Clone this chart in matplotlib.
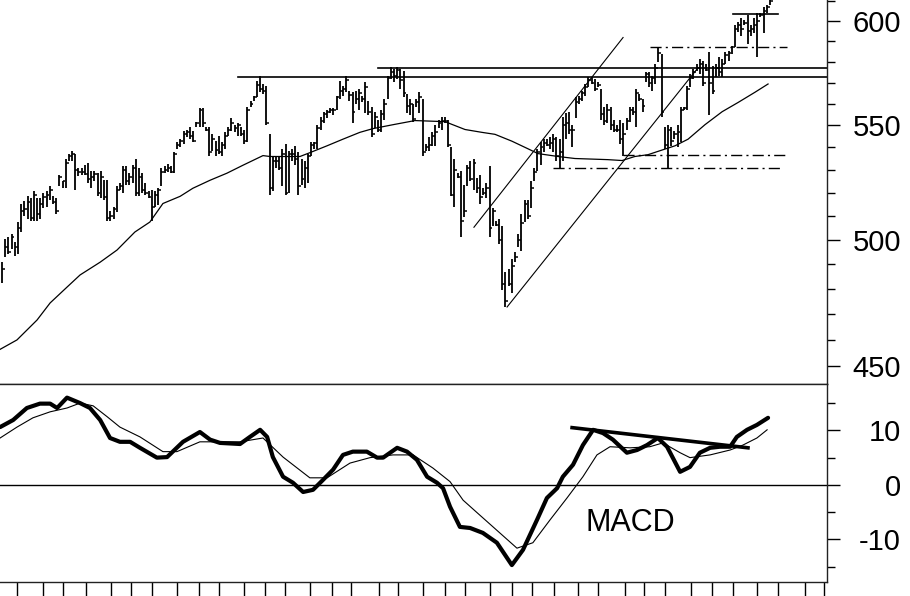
import matplotlib.pyplot as plt
import numpy as np

plt.rcParams['font.family'] = ['Liberation Sans', 'DejaVu Sans']

# daily bars (high / low / close)
highs = [
    490.7, 500.1, 500.9, 502.2, 498.9, 507.5, 515.3, 516.2, 518.4, 517.5,
    520.6, 517.5, 517.5, 519.7, 520.6, 522.8, 518.4, 517.5, 527.6, 525.0,
    535.0, 537.2, 538.5, 537.2, 530.6, 530.6, 532.0, 532.8, 529.3, 529.3,
    528.5, 529.3, 525.4, 525.4, 512.3, 514.0, 522.8, 524.1, 531.5, 531.5,
    528.5, 532.0, 535.0,
    530.6, 528.5, 524.1, 520.6, 521.0, 520.6, 521.9, 530.6, 531.5,
    532.4, 531.5, 538.1, 542.4, 543.7, 547.2, 548.1, 549.4, 547.2, 551.5,
    558.2, 558.2, 549.4, 549.4, 545.9, 542.8, 545.1, 542.4, 546.8,
    549.4, 553.4, 550.1, 551.0, 549.4, 548.1, 558.7, 561.1, 563.5, 570.7,
    573.1, 569.3, 568.3,
    545.9, 536.3, 535.9, 536.3, 539.4, 541.6, 538.5, 539.4, 540.7, 538.1,
    535.0, 533.7, 537.2, 542.4, 542.4, 550.3, 553.9, 556.3, 557.3, 558.2,
    558.2, 563.5, 570.7, 568.3, 573.1, 565.9, 565.4, 565.9, 566.9, 563.5,
    570.2, 561.1, 558.7, 556.3, 552.5, 557.3, 562.1, 573.1, 577.4, 576.5,
    577.4, 576.5,
    575.5, 564.5, 562.1, 559.7, 562.1, 565.4, 562.1, 541.6, 544.6, 546.8,
    550.3, 552.5, 553.9, 553.9, 552.5, 540.2, 535.0, 528.5, 529.3, 523.2,
    532.0, 533.7, 535.0, 526.3, 527.6, 521.9, 524.1, 531.5, 513.2, 507.9,
    508.8, 505.7, 486.6, 487.8, 491.9, 494.8, 502.2, 510.6, 516.7, 516.7,
    525.0, 530.6, 539.4, 542.4, 543.7, 543.7, 544.6, 545.9, 544.6, 543.7,
    553.9, 555.8, 556.3, 550.3, 563.0, 563.5, 565.9, 569.3, 572.6, 572.6,
    571.7, 570.2, 566.9, 558.7, 559.7, 558.7, 552.5, 550.1, 552.5, 551.0,
    553.4, 558.7, 558.7, 566.9, 564.5, 562.1, 575.0, 575.0, 573.1, 578.9,
    587.0, 583.7,
    549.4, 550.3, 549.4, 547.2, 550.3, 558.7, 558.7, 568.3, 574.1, 576.5,
    578.9, 581.3, 580.3, 578.9, 584.6, 577.9, 578.9, 582.2, 581.3, 584.6,
    585.1, 587.5, 598.1, 599.5, 601.5, 600.5, 603.0, 598.1, 601.5, 604.0,
    604.0, 607.0, 608.0, 611.5,
]
lows = [
    482.1, 492.7, 493.9, 496.0, 493.1, 493.9, 503.1, 510.1, 508.8, 507.9,
    507.9, 507.9, 508.8, 513.2, 514.0, 516.7, 515.3, 510.9, 522.8, 521.9,
    521.9, 534.1, 533.7, 521.0, 527.1, 527.9, 527.6, 524.1, 521.9, 524.9,
    518.4, 517.5, 516.7, 507.9, 507.9, 508.8, 511.8, 521.0, 519.7, 523.2,
    523.2, 524.1, 518.4,
    518.4, 519.7, 518.8, 517.5, 507.9, 514.0, 514.5, 522.8, 528.5,
    528.9, 528.5, 528.5, 539.4, 540.2, 541.6, 544.6, 543.7, 542.4, 549.4,
    549.4, 549.4, 547.2, 536.3, 538.5, 536.3, 537.2, 536.3, 539.4,
    545.1, 547.2, 546.8, 545.1, 545.1, 541.6, 542.4, 558.7, 561.1, 563.0,
    565.4, 564.5, 550.1,
    518.8, 520.6, 530.6, 529.8, 522.8, 518.8, 519.7, 534.1, 532.0, 518.8,
    523.2, 521.9, 524.1, 536.3, 539.4, 539.4, 548.1, 551.0, 553.4, 555.8,
    554.9, 557.3, 562.1, 563.5, 565.4, 561.1, 551.0, 559.7, 557.3, 560.6,
    555.8, 554.9, 544.6, 548.9, 546.8, 546.8, 552.5, 562.1, 571.7, 570.2,
    571.7, 566.9,
    563.0, 555.8, 554.9, 551.5, 558.7, 555.8, 535.9, 538.5, 538.5, 540.7,
    540.7, 549.0, 548.1, 551.0, 540.2, 518.4, 514.0, 526.3, 501.3, 509.7,
    522.8, 524.9, 521.0, 519.7, 515.3, 518.8, 517.5, 501.3, 505.7, 505.7,
    498.0, 479.6, 472.6, 480.9, 478.4, 490.7, 496.8, 495.2, 507.5, 508.8,
    513.2, 525.0, 529.3, 532.0, 538.1, 540.7, 539.4, 538.1, 534.1, 530.6,
    533.7, 543.7, 545.9, 540.2, 553.4, 559.7, 561.1, 563.5, 567.8, 569.3,
    565.9, 567.8, 552.5, 550.1, 551.0, 548.1, 546.8, 546.8, 541.6, 536.3,
    548.1, 551.5, 554.9, 549.4, 561.1, 556.3, 570.2, 567.8, 565.9, 569.3,
    579.8, 554.0,
    539.4, 530.6, 540.7, 543.7, 540.2, 542.4, 557.3, 557.3, 567.8, 571.7,
    575.5, 574.1, 568.3, 575.5, 554.9, 564.5, 572.6, 573.1, 572.6, 578.9,
    580.3, 583.7, 587.0, 594.7, 592.3, 598.1, 588.5, 592.3, 594.2, 582.2,
    602.0, 594.2, 604.0, 608.0,
]
closes = [
    488, 497, 495, 501, 497, 505, 512, 513, 516, 509,
    519, 511, 515, 518, 519, 521, 516, 512, 527, 525,
    533, 536, 537, 530, 529, 529, 528, 526, 527, 528,
    520, 527, 518, 509, 510, 513, 521, 523, 530, 525,
    527, 531, 520,
    527, 521, 520, 518, 514, 519, 521, 529, 530,
    531, 529, 537, 541, 543, 546, 547, 545, 543, 551,
    557, 551, 548, 538, 544, 539, 538, 541, 545,
    548, 551, 549, 550, 546, 543, 557, 560, 563, 569,
    567, 566, 551,
    522, 534, 534, 531, 537, 520, 537, 537, 535, 523,
    526, 531, 536, 541, 542, 549, 552, 555, 556, 557,
    557, 563, 566, 567, 571, 564, 556, 562, 565, 562,
    568, 556, 546, 554, 548, 555, 560, 572, 575, 573,
    576, 571,
    565, 559, 560, 553, 561, 563, 538, 540, 541, 545,
    547, 551, 552, 552, 541, 519, 530, 527, 508, 512,
    531, 526, 533, 522, 518, 520, 522, 505, 512, 506,
    500, 482, 475, 482, 489, 493, 500, 507, 515, 510,
    522, 529, 538, 540, 542, 541, 542, 544, 536, 538,
    550, 551, 548, 548, 561, 562, 565, 568, 571, 570,
    567, 569, 555, 552, 557, 550, 548, 548, 544, 546,
    552, 557, 556, 565, 562, 559, 574, 570, 572, 577,
    584, 556,
    541, 548, 543, 546, 547, 557, 558, 567, 572, 575,
    577, 579, 570, 576, 570, 566, 577, 575, 579, 583,
    584, 587, 596, 598, 596, 599, 595, 596, 598, 600,
    603, 605, 607, 610,
]

# moving average (bar index, price)
ma_x = [-0.6, 4.7, 11.0, 15.1, 20.4, 24.5, 30.8, 36.1, 41.7, 46.4,
        50.5, 55.9, 59.9, 65.3, 70.6, 75.6, 81.9, 84.1, 93.5,
        96.6, 102.0, 107.0, 112.3, 116.4, 122.7, 129.6, 139.0, 145.3, 150.6,
        154.7, 160.0, 165.0, 168.2, 174.5, 179.8, 190.1, 194.6, 198.6, 202.7,
        206.5, 211.2, 215.3, 220.6, 226.0, 231.0, 236.3, 240.4]
ma_vals = [456.3, 459.9, 467.6, 474.3, 480.6, 485.5, 490.7, 495.7, 503.2, 507.4,
           515.3, 518.4, 521.9, 525.4, 528.5, 532.0, 536.3, 535.9, 535.9,
           537.6, 540.7, 543.7, 546.8, 548.5, 550.3, 552.2, 551.7, 548.1, 546.8,
           545.9, 542.8, 539.4, 537.2, 535.9, 535.0, 534.5, 534.1, 535.9, 536.7,
           538.5, 540.7, 543.7, 550.3, 556.3, 560.6, 565.4, 569.3]

# MACD and signal line
macd_x = [-0.6, 3.5, 7.8, 11.9, 15.1, 17.3, 20.4, 24.5, 27.6, 30.8,
          33.9, 37.0, 40.2, 43.3, 48.6, 51.8, 56.8, 62.1, 65.3, 68.4,
          74.7, 77.8, 81.0, 83.2, 85.0, 88.2, 91.3, 94.5, 97.6, 100.7,
          103.9, 107.0, 110.1, 114.5, 117.7, 119.6, 124.0, 127.1, 130.2, 133.4,
          136.5, 138.4, 140.6, 143.7, 146.9, 150.9, 155.3, 160.0, 163.5, 167.9,
          171.0, 174.2, 176.0, 179.2, 182.3, 185.5, 188.6, 191.7, 196.1, 199.3,
          202.4, 205.8, 208.7, 212.8, 215.9, 219.0, 222.2, 225.3, 228.5, 230.6,
          233.8, 236.9, 240.4]
macd_vals = [10.6, 11.9, 14.1, 14.9, 14.9, 14.1, 16.0, 15.0, 14.1, 11.9,
             8.6, 7.9, 7.9, 6.8, 5.0, 5.1, 7.9, 9.7, 8.3, 7.7,
             7.5, 8.8, 10.1, 8.8, 5.1, 1.5, 0.4, -1.3, -0.9, 0.9,
             2.8, 5.5, 6.1, 6.1, 5.0, 5.0, 6.8, 6.1, 4.6, 1.5,
             0.4, -0.6, -4.0, -7.7, -7.9, -8.8, -10.6, -14.7, -11.9, -6.4,
             -2.4, -0.6, 1.5, 3.7, 7.3, 10.1, 9.5, 8.3, 5.9, 6.4,
             7.3, 8.6, 7.0, 2.4, 3.3, 5.9, 6.8, 7.0, 7.0, 8.8,
             10.1, 11.0, 12.3]
signal_x = [-0.6, 4.7, 9.7, 15.1, 20.4, 24.5, 28.6, 33.0, 37.0, 43.3,
            50.5, 54.9, 62.1, 67.5, 74.7, 81.9, 88.2, 96.6, 102.0, 109.2,
            115.5, 122.7, 129.0, 135.2, 140.6, 144.7, 149.1, 154.1, 161.6, 166.6,
            172.0, 177.3, 182.3, 186.7, 190.8, 197.1, 203.3, 207.4, 212.8, 215.9,
            222.2, 228.5, 232.5, 236.9, 240.1]
signal_vals = [8.6, 10.6, 12.3, 13.4, 14.1, 15.0, 14.5, 12.5, 10.6, 8.8,
               6.1, 6.1, 7.9, 7.9, 7.9, 8.6, 5.1, 1.3, 1.3, 4.0,
               5.0, 5.5, 5.5, 3.1, 0.6, -2.8, -5.1, -7.7, -11.6, -10.6,
               -6.4, -2.4, 1.5, 5.5, 7.0, 6.8, 7.0, 7.7, 5.9, 5.0,
               5.5, 6.4, 7.3, 8.6, 10.1]

week_ticks = [4.7, 12.9, 19.1, 26.4, 34.2, 40.5, 47.1, 54.9, 61.8, 68.1,
              75.9, 82.5, 88.8, 96.6, 103.6, 109.5, 118.3, 124.3, 132.1, 139.0,
              145.3, 153.1, 160.0, 166.3, 173.2, 180.8, 187.1, 195.5, 201.5, 208.1,
              216.2, 222.9, 229.4, 236.9, 243.5, 252.0, 257.9]

price_ticks = [450, 500, 550, 600]
price_minor = [460, 470, 480, 490, 510, 520, 530, 540, 560, 570, 580, 590, 610]
macd_ticks = [-10, 0, 10]
macd_labels = ['-10', '0', '10']
macd_minor = [-15, -5, 5, 15]

XMIN, XMAX = -0.63, 258.9

fig = plt.figure(figsize=(9.1, 5.96), dpi=100)
ax1 = fig.add_axes([0, 0.3557, 0.9088, 0.6443])
ax2 = fig.add_axes([0, 0.0235, 0.9088, 0.3322])

# price bars
x = np.arange(len(highs))
ax1.vlines(x, lows, highs, color='black', lw=1.3)
ax1.hlines(closes, x, x + 0.9, color='black', lw=1.1)
ax1.plot(ma_x, ma_vals, color='black', lw=0.9)

# support / resistance and trend lines
ax1.plot([74.1, 262], [572.6, 572.6], color='black', lw=1.2)
ax1.plot([118.0, 262], [577.0, 577.0], color='black', lw=1.2)
ax1.plot([229.4, 243.5], [603.5, 603.5], color='black', lw=1.2)
dashdot = (0, (8, 3, 1.5, 3))
ax1.plot([203.3, 246.3], [587.0, 587.0], color='black', lw=1.0, linestyle=dashdot)
ax1.plot([194.9, 246.3], [536.7, 536.7], color='black', lw=1.0, linestyle=dashdot)
ax1.plot([172.9, 244.8], [530.6, 530.6], color='black', lw=1.0, linestyle=dashdot)
ax1.plot([148.1, 194.9], [505.2, 591.8], color='black', lw=0.8)
ax1.plot([158.5, 218.4], [472.7, 577.0], color='black', lw=0.8)

ax1.set_yscale('log')
ax1.set_ylim(443.3, 610.6)
ax1.set_xlim(XMIN, XMAX)
ax1.set_yticks(price_ticks, [str(t) for t in price_ticks])
ax1.set_yticks(price_minor, minor=True)
ax1.yaxis.set_minor_formatter(plt.NullFormatter())
ax1.yaxis.tick_right()
ax1.tick_params(axis='x', bottom=False, labelbottom=False)
ax1.tick_params(axis='y', which='major', length=9.4, width=1, labelsize=21, pad=43.9)
ax1.tick_params(axis='y', which='minor', length=5.5, width=1)
for s in ['left', 'top']:
    ax1.spines[s].set_visible(False)

# MACD panel
ax2.axhline(0, color='black', lw=1.0)
ax2.plot(signal_x, signal_vals, color='black', lw=0.8)
ax2.plot(macd_x, macd_vals, color='black', lw=3.0, solid_capstyle='round')
ax2.plot([178.9, 234.1], [10.5, 6.8], color='black', lw=2.6)
ax2.text(197.1, -7.0, 'MACD', fontsize=22, ha='center', va='center')

ax2.set_xlim(XMIN, XMAX)
ax2.set_ylim(-17.8, 18.5)
ax2.set_yticks(macd_ticks, macd_labels)
ax2.set_yticks(macd_minor, minor=True)
ax2.yaxis.tick_right()
ax2.tick_params(axis='y', which='major', length=9.4, width=1, labelsize=21, pad=43.9)
ax2.tick_params(axis='y', which='minor', length=5.5, width=1)
ax2.set_xticks(week_ticks, [''] * len(week_ticks))
ax2.tick_params(axis='x', length=10, width=1, direction='out')
ax2.spines['left'].set_visible(False)

for ax in (ax1, ax2):
    for t in ax.yaxis.get_major_ticks():
        t.label2.set_horizontalalignment('right')
    for s in ['right', 'bottom', 'top']:
        ax.spines[s].set_linewidth(1.0)
        ax.spines[s].set_color('#222222')

fig.savefig('out.png', dpi=100)
